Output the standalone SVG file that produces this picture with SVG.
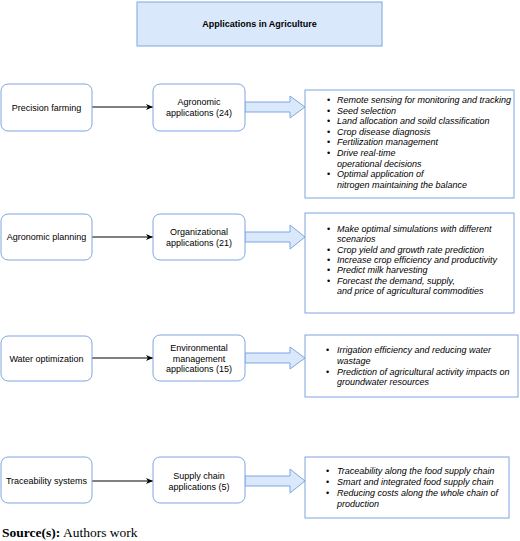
<svg xmlns="http://www.w3.org/2000/svg" width="520" height="541" viewBox="0 0 520 541">
<defs>
<marker id="ah" markerWidth="8" markerHeight="8" refX="7" refY="4" orient="auto" markerUnits="userSpaceOnUse">
<path d="M0,1 L7,4 L0,7 L2,4 Z" fill="#000"/>
</marker>
<style>
.node{fill:#fff;stroke:#7ea6e0;stroke-width:1}
.list{fill:#fff;stroke:#7ea6e0;stroke-width:1}
.t{font-family:"Liberation Sans",Arial,sans-serif;font-size:9px;fill:#000;text-anchor:middle}
.li{font-family:"Liberation Sans",Arial,sans-serif;font-size:9px;font-style:italic;fill:#000}
.b{font-family:"Liberation Sans",Arial,sans-serif;font-size:9px;fill:#000}
.conn{stroke:#000;stroke-width:1;fill:none}
.big{fill:#dae8fc;stroke:#7ea6e0;stroke-width:1}
</style>
</defs>
<rect width="520" height="541" fill="#fff"/>
<g id="title">
<rect x="137" y="2" width="245" height="44" fill="#dae8fc" stroke="#7ea6e0"/>
<text x="259.5" y="27" class="t" font-weight="bold">Applications in Agriculture</text>
</g>
<g id="connectors">
<line x1="92" y1="107" x2="153" y2="107" class="conn" marker-end="url(#ah)"/>
<line x1="92" y1="237" x2="153" y2="237" class="conn" marker-end="url(#ah)"/>
<line x1="92" y1="358" x2="153" y2="358" class="conn" marker-end="url(#ah)"/>
<line x1="92" y1="481" x2="153" y2="481" class="conn" marker-end="url(#ah)"/>
<polygon class="big" points="245,102 290,102 290,96 305,107 290,118 290,112 245,112"/>
<polygon class="big" points="245,232 290,232 290,225 305,237 290,249 290,242 245,242"/>
<polygon class="big" points="245,353 290,353 290,347 305,358 290,369 290,363 245,363"/>
<polygon class="big" points="245,476 290,476 290,469 305,481 290,493 290,486 245,486"/>
</g>
<g id="n-precision">
<rect x="1" y="84" width="91" height="47" rx="7" class="node"/>
<text x="46.5" y="110.5" class="t">Precision farming</text>
</g>
<g id="n-agronomic">
<rect x="153" y="84" width="92" height="47" rx="7" class="node"/>
<text x="199" y="105" class="t">Agronomic</text>
<text x="199" y="116" class="t">applications (24)</text>
</g>
<g id="l-agronomic">
<rect x="305" y="90" width="209" height="108" class="list"/>
<g class="b">
<text x="327" y="103">•</text><text x="327" y="113.6">•</text><text x="327" y="124.2">•</text><text x="327" y="134.8">•</text><text x="327" y="145.4">•</text><text x="327" y="156">•</text><text x="327" y="177.2">•</text>
</g>
<g class="li">
<text x="337" y="103">Remote sensing for monitoring and tracking</text>
<text x="337" y="113.6">Seed selection</text>
<text x="337" y="124.2">Land allocation and soild classification</text>
<text x="337" y="134.8">Crop disease diagnosis</text>
<text x="337" y="145.4">Fertilization management</text>
<text x="337" y="156">Drive real-time</text>
<text x="337" y="166.6">operational decisions</text>
<text x="337" y="177.2">Optimal application of</text>
<text x="337" y="187.8">nitrogen maintaining the balance</text>
</g>
</g>
<g id="n-planning">
<rect x="1" y="214" width="91" height="46" rx="7" class="node"/>
<text x="46.5" y="240" class="t">Agronomic planning</text>
</g>
<g id="n-organizational">
<rect x="153" y="214" width="92" height="46" rx="7" class="node"/>
<text x="199" y="234.5" class="t">Organizational</text>
<text x="199" y="245.5" class="t">applications (21)</text>
</g>
<g id="l-organizational">
<rect x="305" y="213" width="209" height="100" class="list"/>
<g class="b">
<text x="327" y="232">•</text><text x="327" y="252.6">•</text><text x="327" y="262.9">•</text><text x="327" y="273.2">•</text><text x="327" y="283.5">•</text>
</g>
<g class="li">
<text x="337" y="232">Make optimal simulations with different</text>
<text x="337" y="242.3">scenarios</text>
<text x="337" y="252.6">Crop yield and growth rate prediction</text>
<text x="337" y="262.9">Increase crop efficiency and productivity</text>
<text x="337" y="273.2">Predict milk harvesting</text>
<text x="337" y="283.5">Forecast the demand, supply,</text>
<text x="337" y="293.8">and price of agricultural commodities</text>
</g>
</g>
<g id="n-water">
<rect x="1" y="336" width="91" height="45" rx="7" class="node"/>
<text x="46.5" y="361.5" class="t">Water optimization</text>
</g>
<g id="n-environmental">
<rect x="153" y="335" width="92" height="46" rx="7" class="node"/>
<text x="199" y="351" class="t">Environmental</text>
<text x="199" y="361.5" class="t">management</text>
<text x="199" y="372" class="t">applications (15)</text>
</g>
<g id="l-environmental">
<rect x="305" y="335" width="213" height="62" class="list"/>
<g class="b">
<text x="326" y="353">•</text><text x="326" y="374.6">•</text>
</g>
<g class="li">
<text x="337" y="353">Irrigation efficiency and reducing water</text>
<text x="337" y="363.8">wastage</text>
<text x="337" y="374.6">Prediction of agricultural activity impacts on</text>
<text x="337" y="385.4">groundwater resources</text>
</g>
</g>
<g id="n-traceability">
<rect x="1" y="457" width="91" height="46" rx="7" class="node"/>
<text x="46.5" y="484" class="t">Traceability systems</text>
</g>
<g id="n-supply">
<rect x="153" y="457" width="92" height="46" rx="7" class="node"/>
<text x="199" y="478.5" class="t">Supply chain</text>
<text x="199" y="489.5" class="t">applications (5)</text>
</g>
<g id="l-supply">
<rect x="305" y="457" width="204" height="61" class="list"/>
<g class="b">
<text x="326" y="474">•</text><text x="326" y="485">•</text><text x="326" y="496">•</text>
</g>
<g class="li">
<text x="337" y="474">Traceability along the food supply chain</text>
<text x="337" y="485">Smart and integrated food supply chain</text>
<text x="337" y="496">Reducing costs along the whole chain of</text>
<text x="337" y="507">production</text>
</g>
</g>
<text x="2" y="537" font-family="'Liberation Serif','Times New Roman',serif" font-size="13.5" fill="#000"><tspan font-weight="bold">Source(s):</tspan> Authors work</text>
</svg>
